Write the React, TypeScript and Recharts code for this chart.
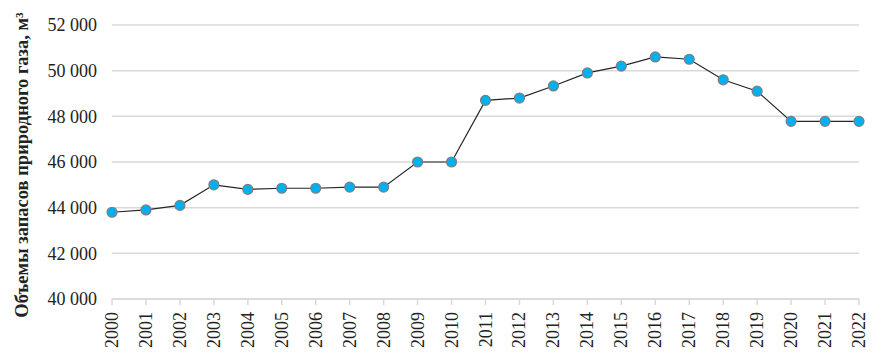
import React from "react";
import { LineChart, Line, XAxis, YAxis, CartesianGrid } from "recharts";

const years = ["2000","2001","2002","2003","2004","2005","2006","2007","2008","2009","2010","2011","2012","2013","2014","2015","2016","2017","2018","2019","2020","2021","2022"];
const reserves = [43800,43900,44100,45000,44800,44850,44850,44900,44900,46000,46000,48700,48800,49330,49900,50200,50600,50500,49600,49100,47780,47780,47780];
const yTicks = [40000,42000,44000,46000,48000,50000,52000];
const yLabel = "Объемы запасов природного газа, м³";

const data = years.map((y, i) => ({ year: y, value: reserves[i] }));

const fmt = (v: number) => {
  const s = String(v);
  return s.slice(0, s.length - 3) + " " + s.slice(-3);
};

const XTick = (props: any) => {
  const { x, y, payload } = props;
  return (
    <text
      x={x}
      y={y}
      transform={`rotate(-90, ${x}, ${y})`}
      textAnchor="end"
      dominantBaseline="central"
      fontFamily="'Liberation Serif', 'Times New Roman', serif"
      fontSize={18}
      fill="#222"
    >
      {payload.value}
    </text>
  );
};

const YLabel = () => (
  <text
    x={22}
    y={165}
    transform="rotate(-90, 22, 165)"
    textAnchor="middle"
    dominantBaseline="central"
    fontFamily="'Liberation Serif', 'Times New Roman', serif"
    fontSize={18.5}
    fontWeight="bold"
    fill="#222"
  >
    {yLabel}
  </text>
);

export default function App() {
  return (
    <div style={{ position: "fixed", left: 0, top: 0, width: 876, height: 356, background: "#fff" }}>
      <LineChart width={876} height={356} data={data} margin={{ top: 25, right: 17, bottom: 0, left: 0 }}>
        <CartesianGrid vertical={false} stroke="#d9d9d9" strokeWidth={1.5} />
        <XAxis
          dataKey="year"
          interval={0}
          height={57}
          tick={<XTick />}
          tickSize={6}
          tickMargin={7}
          axisLine={{ stroke: "#d9d9d9", strokeWidth: 1.5 }}
          tickLine={{ stroke: "#d9d9d9", strokeWidth: 1.5 }}
          padding={{ left: 0, right: 0 }}
        />
        <YAxis
          width={112}
          domain={[40000, 52000]}
          ticks={yTicks}
          tickFormatter={fmt}
          axisLine={false}
          tickLine={false}
          tickSize={6}
          tickMargin={9}
          tick={{ fontFamily: "'Liberation Serif', 'Times New Roman', serif", fontSize: 18, fill: "#222" }}
          label={<YLabel />}
        />
        <Line
          type="linear"
          dataKey="value"
          stroke="#262626"
          strokeWidth={1.2}
          isAnimationActive={false}
          dot={{ r: 5, fill: "#00B0F0", stroke: "#7f7f7f", strokeWidth: 1.2 }}
          activeDot={false}
        />
      </LineChart>
    </div>
  );
}
